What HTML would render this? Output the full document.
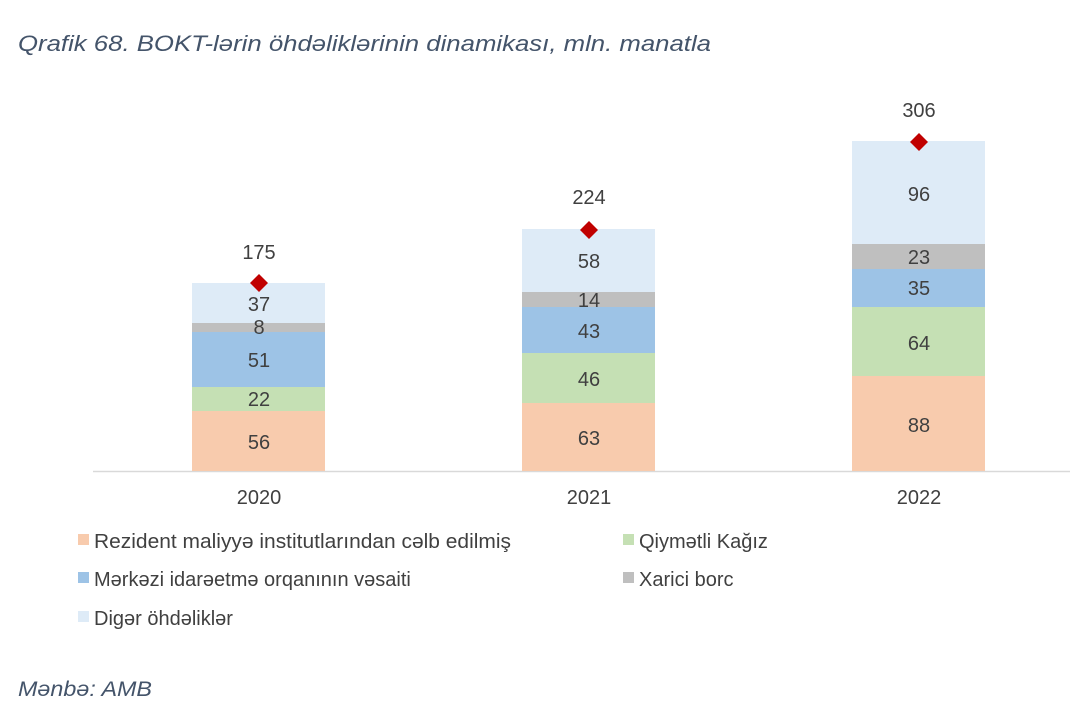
<!DOCTYPE html>
<html><head><meta charset="utf-8"><style>
body{margin:0;background:#fff;width:1087px;height:721px;overflow:hidden;font-family:"Liberation Sans",sans-serif;}
</style></head><body>
<svg width="1087" height="721" xmlns="http://www.w3.org/2000/svg" font-family="Liberation Sans, sans-serif">
<text x="18" y="51" font-size="22" font-style="italic" fill="#44546A" textLength="693" lengthAdjust="spacingAndGlyphs">Qrafik 68. BOKT-lərin öhdəliklərinin dinamikası, mln. manatla</text>
<line x1="93" y1="471.5" x2="1070" y2="471.5" stroke="#D9D9D9" stroke-width="1.5"/>
<g>
<rect x="192" y="411" width="133" height="60" fill="#F8CBAD"/>
<rect x="192" y="387" width="133" height="24" fill="#C5E0B4"/>
<rect x="192" y="332" width="133" height="55" fill="#9DC3E6"/>
<rect x="192" y="323" width="133" height="9" fill="#BFBFBF"/>
<rect x="192" y="283" width="133" height="40" fill="#DEEBF7"/>
<rect x="522" y="403" width="133" height="68" fill="#F8CBAD"/>
<rect x="522" y="353" width="133" height="50" fill="#C5E0B4"/>
<rect x="522" y="307" width="133" height="46" fill="#9DC3E6"/>
<rect x="522" y="292" width="133" height="15" fill="#BFBFBF"/>
<rect x="522" y="229" width="133" height="63" fill="#DEEBF7"/>
<rect x="852" y="376" width="133" height="95" fill="#F8CBAD"/>
<rect x="852" y="307" width="133" height="69" fill="#C5E0B4"/>
<rect x="852" y="269" width="133" height="38" fill="#9DC3E6"/>
<rect x="852" y="244" width="133" height="25" fill="#BFBFBF"/>
<rect x="852" y="141" width="133" height="103" fill="#DEEBF7"/>
</g>
<g font-size="20" fill="#404040" text-anchor="middle">
<text x="259" y="449">56</text><text x="259" y="406">22</text><text x="259" y="367">51</text><text x="259" y="334">8</text><text x="259" y="311">37</text>
<text x="589" y="445">63</text><text x="589" y="386">46</text><text x="589" y="338">43</text><text x="589" y="307">14</text><text x="589" y="268">58</text>
<text x="919" y="432">88</text><text x="919" y="350">64</text><text x="919" y="295">35</text><text x="919" y="264">23</text><text x="919" y="201">96</text>
<text x="259" y="259">175</text><text x="589" y="204">224</text><text x="919" y="117">306</text>
<text x="259" y="504">2020</text><text x="589" y="504">2021</text><text x="919" y="504">2022</text>
</g>
<g fill="#C00000">
<polygon points="259,274 268,283 259,292 250,283"/>
<polygon points="589,221 598,230 589,239 580,230"/>
<polygon points="919,133 928,142 919,151 910,142"/>
</g>
<g font-size="20" fill="#404040">
<rect x="78" y="534" width="11" height="11" fill="#F8CBAD"/><text x="94" y="548" textLength="417" lengthAdjust="spacingAndGlyphs">Rezident maliyyə institutlarından cəlb edilmiş</text>
<rect x="623" y="534" width="11" height="11" fill="#C5E0B4"/><text x="639" y="548">Qiymətli Kağız</text>
<rect x="78" y="572" width="11" height="11" fill="#9DC3E6"/><text x="94" y="586">Mərkəzi idarəetmə orqanının vəsaiti</text>
<rect x="623" y="572" width="11" height="11" fill="#BFBFBF"/><text x="639" y="586">Xarici borc</text>
<rect x="78" y="611" width="11" height="11" fill="#DEEBF7"/><text x="94" y="625">Digər öhdəliklər</text>
</g>
<text x="18" y="696" font-size="21" font-style="italic" fill="#44546A" textLength="134" lengthAdjust="spacingAndGlyphs">Mənbə: AMB</text>
</svg>
</body></html>
